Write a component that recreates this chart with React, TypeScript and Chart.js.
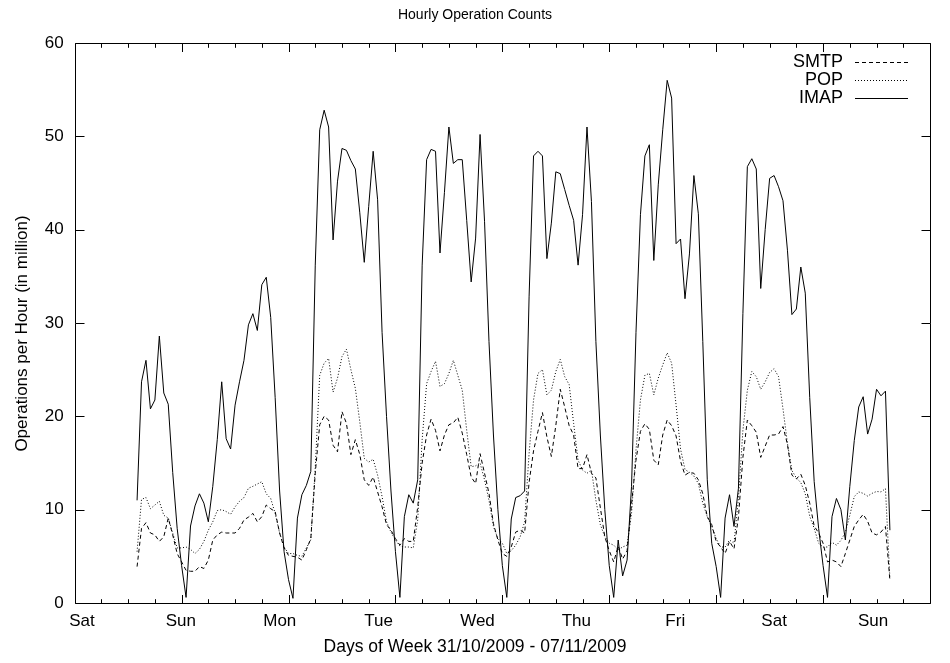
import { useEffect, useRef } from 'react';
import { Chart, registerables } from 'chart.js';

Chart.register(...registerables);

// hour index (hours since the first Saturday 00:00) of the first sample
const START_HOUR = 14;
const TOTAL_HOURS = 192;
const dayLabels = ['Sat', 'Sun', 'Mon', 'Tue', 'Wed', 'Thu', 'Fri', 'Sat', 'Sun'];
const seriesNames = ['SMTP', 'POP', 'IMAP'];
const yTitle = 'Operations per Hour (in million)';
const xTitle = 'Days of Week 31/10/2009 - 07/11/2009';
const chartTitle = 'Hourly Operation Counts';

const smtp = [
  3.9, 8.0, 8.6, 7.5, 7.3, 6.6, 7.1, 9.1, 7.3, 5.3, 4.4, 3.5,
  3.4, 3.4, 3.9, 3.7, 4.6, 6.75, 7.3, 7.6, 7.5, 7.5, 7.5, 8.0,
  8.9, 9.2, 9.6, 8.7, 9.25, 10.5, 10.1, 9.8, 7.5, 5.9, 5.1, 5.0,
  4.9, 4.6, 5.7, 6.9, 13.9, 19.1, 20.0, 19.6, 16.9, 16.2, 20.5, 19.25,
  15.9, 17.5, 15.9, 13.2, 12.6, 13.5, 11.9, 10.3, 8.4, 7.8, 6.9, 6.2,
  6.9, 6.6, 6.6, 10.3, 15.0, 18.0, 19.7, 18.5, 16.3, 18.0, 19.1, 19.3,
  19.9, 18.2, 15.9, 13.5, 12.8, 16.0, 13.9, 11.75, 8.5, 6.75, 5.3, 5.0,
  6.0, 7.6, 7.8, 7.5, 12.9, 16.3, 18.4, 20.4, 17.8, 15.7, 19.0, 22.9,
  21.0, 19.0, 18.0, 14.4, 14.4, 15.9, 13.9, 13.4, 10.2, 7.1, 5.6, 4.4,
  6.1, 4.7, 5.6, 10.6, 15.3, 18.4, 19.2, 18.6, 15.3, 14.8, 18.0, 19.6,
  19.0, 17.9, 15.2, 13.7, 14.0, 13.9, 13.2, 11.7, 9.25, 8.4, 6.6, 6.0,
  5.3, 6.6, 5.8, 9.2, 15.6, 19.6, 19.0, 18.3, 15.6, 16.8, 18.0, 18.0,
  18.1, 18.9, 17.0, 13.7, 13.3, 13.8, 12.6, 10.7, 8.25, 7.5, 6.4, 4.4,
  4.6, 4.4, 3.9, 5.3, 6.75, 8.2, 8.9, 9.5, 8.75, 7.5, 7.3, 7.6,
  8.2, 2.4,
];

const pop = [
  5.5, 11.1, 11.3, 10.1, 10.5, 10.9, 9.4, 9.1, 7.5, 5.9, 5.9, 6.0,
  5.75, 5.3, 5.75, 6.6, 7.8, 8.7, 9.9, 10.0, 9.8, 9.5, 10.3, 10.9,
  11.3, 12.3, 12.5, 12.75, 13.0, 11.7, 11.2, 9.6, 7.5, 6.0, 5.3, 5.3,
  5.1, 5.0, 5.9, 6.75, 14.5, 24.4, 25.7, 26.2, 22.6, 24.1, 26.4, 27.2,
  25.0, 23.0, 19.4, 15.5, 15.1, 15.4, 13.7, 11.4, 8.7, 7.6, 6.75, 6.1,
  6.0, 6.0, 5.9, 8.9, 17.5, 23.5, 24.8, 25.9, 23.2, 23.5, 24.6, 26.0,
  24.4, 22.8, 18.5, 14.6, 14.7, 15.0, 13.2, 11.0, 8.2, 6.9, 6.4, 5.3,
  5.6, 6.2, 7.1, 8.7, 16.0, 21.75, 24.6, 25.0, 22.3, 22.8, 24.8, 26.1,
  24.25, 23.4, 19.25, 15.3, 14.25, 13.9, 14.25, 11.0, 8.4, 7.1, 6.4, 6.2,
  5.7, 6.0, 6.2, 9.6, 16.4, 21.75, 24.4, 24.6, 22.3, 24.1, 25.5, 26.8,
  25.7, 21.2, 16.5, 14.3, 14.0, 13.6, 12.8, 10.7, 9.25, 8.2, 6.9, 6.0,
  6.0, 6.75, 6.4, 11.2, 18.5, 22.8, 24.8, 24.25, 22.9, 23.7, 24.7, 25.1,
  24.25, 20.8, 17.1, 14.2, 13.4, 12.9, 11.7, 9.3, 8.0, 6.4, 6.0, 6.0,
  6.5, 6.2, 6.7, 7.6, 9.4, 11.4, 11.9, 11.75, 11.45, 11.75, 11.95, 11.9,
  12.25, 2.6,
];

const imap = [
  11.0, 23.7, 26.0, 20.8, 21.75, 28.6, 22.5, 21.3, 14, 8, 4, 0.6,
  8.25, 10.4, 11.7, 10.7, 8.7, 12.5, 17.5, 23.7, 17.6, 16.5, 21.2, 23.7,
  26.0, 29.8, 31.0, 29.2, 34.1, 34.9, 30.6, 22, 12, 5.5, 2.5, 0.5,
  9.1, 11.6, 12.6, 14.1, 36.2, 50.7, 52.8, 51.0, 38.9, 45.2, 48.7, 48.5,
  47.4, 46.5, 41.8, 36.5, 42.5, 48.4, 43.2, 29, 20, 12, 5.5, 0.6,
  9.25, 11.6, 10.7, 13.2, 36.2, 47.5, 48.6, 48.4, 37.5, 44.0, 51.0, 47.1,
  47.5, 47.5, 41.0, 34.4, 39.1, 50.2, 40.9, 28, 18, 10, 4, 0.6,
  9.0, 11.3, 11.5, 12.0, 32.8, 47.9, 48.4, 47.9, 36.9, 40.7, 46.2, 46.0,
  44.3, 42.6, 41.0, 36.2, 41.6, 51.0, 43.0, 28, 18, 10, 4, 0.6,
  6.75, 2.9, 4.6, 12.5, 29, 41.6, 47.9, 49.1, 36.7, 44.8, 50.7, 56.0,
  54.1, 38.5, 39.0, 32.6, 37.4, 45.8, 41.7, 28, 13.2, 6.4, 3.9, 0.6,
  9.1, 11.6, 8.2, 12.3, 31, 46.75, 47.6, 46.5, 33.7, 40, 45.5, 45.8,
  44.6, 43.1, 37.8, 30.9, 31.5, 36.0, 33.2, 22, 13, 8, 4, 0.6,
  9.25, 11.2, 10.0, 6.75, 12.5, 17.4, 21.0, 22.1, 18.1, 19.7, 22.9, 22.2,
  22.7, 7.8,
];

const FONT = 'Liberation Sans, Arial, Helvetica, sans-serif';

const toPoints = (vals: number[]) => vals.map((v, i) => ({ x: START_HOUR + i, y: v }));

// frame with inward ticks (gnuplot style), mirrored on all sides
const framePlugin = {
  id: 'gnuFrame',
  afterDatasetsDraw(chart: any) {
    const { ctx, chartArea: a, scales } = chart;
    const xs = scales.x;
    const ys = scales.y;
    const L = Math.round(a.left) + 0.5;
    const R = Math.round(a.right) + 0.5;
    const T = Math.round(a.top) + 0.5;
    const B = Math.round(a.bottom) + 0.5;
    ctx.save();
    ctx.strokeStyle = '#000';
    ctx.lineWidth = 1;
    ctx.beginPath();
    ctx.rect(L, T, R - L, B - T);
    for (let v = 0; v <= 60; v += 10) {
      const y = Math.round(ys.getPixelForValue(v)) + 0.5;
      ctx.moveTo(L, y); ctx.lineTo(L + 9, y);
      ctx.moveTo(R, y); ctx.lineTo(R - 9, y);
    }
    for (let h = 0; h <= TOTAL_HOURS; h += 6) {
      const x = Math.round(xs.getPixelForValue(h)) + 0.5;
      const len = h % 24 === 0 ? 8.5 : 4.3;
      ctx.moveTo(x, B); ctx.lineTo(x, B - len);
      ctx.moveTo(x, T); ctx.lineTo(x, T + len);
    }
    ctx.stroke();
    ctx.restore();
  },
};

// rotated y-axis title, centred on the canvas height like gnuplot does
const yTitlePlugin = {
  id: 'gnuYTitle',
  afterDraw(chart: any) {
    const { ctx } = chart;
    ctx.save();
    ctx.translate(22, chart.height / 2 + 2);
    ctx.rotate(-Math.PI / 2);
    ctx.font = `17px ${FONT}`;
    ctx.fillStyle = '#000';
    ctx.textAlign = 'center';
    ctx.textBaseline = 'middle';
    ctx.fillText(yTitle, 0, 0);
    ctx.restore();
  },
};

// legend inside the top-right corner: text right-aligned, sample line to its right
const legendPlugin = {
  id: 'gnuLegend',
  afterDatasetsDraw(chart: any) {
    const { ctx, chartArea: a } = chart;
    ctx.save();
    ctx.font = `18px ${FONT}`;
    ctx.textAlign = 'right';
    ctx.textBaseline = 'middle';
    chart.data.datasets.forEach((ds: any, i: number) => {
      const y = a.top + 18.7 + i * 18.3;
      ctx.fillStyle = '#000';
      ctx.fillText(ds.label, a.right - 87, y);
      ctx.strokeStyle = ds.borderColor;
      ctx.lineWidth = ds.borderWidth;
      ctx.setLineDash(ds.borderDash || []);
      ctx.beginPath();
      ctx.moveTo(a.right - 75, Math.round(y) + 0.5);
      ctx.lineTo(a.right - 22, Math.round(y) + 0.5);
      ctx.stroke();
      ctx.setLineDash([]);
    });
    ctx.restore();
  },
};

export default function App() {
  const ref = useRef<HTMLCanvasElement | null>(null);

  useEffect(() => {
    if (!ref.current) return;
    const labelUnit = 98.875; // pixel spacing of day labels
    const chart = new Chart(ref.current, {
      type: 'line',
      data: {
        datasets: [
          { label: seriesNames[0], data: toPoints(smtp), borderColor: '#000', borderWidth: 1, borderDash: [4, 3], pointRadius: 0, fill: false, tension: 0, xAxisID: 'x', yAxisID: 'y' },
          { label: seriesNames[1], data: toPoints(pop), borderColor: '#000', borderWidth: 1, borderDash: [1, 2], pointRadius: 0, fill: false, tension: 0, xAxisID: 'x', yAxisID: 'y' },
          { label: seriesNames[2], data: toPoints(imap), borderColor: '#000', borderWidth: 1, pointRadius: 0, fill: false, tension: 0, xAxisID: 'x', yAxisID: 'y' },
        ],
      },
      options: {
        responsive: false,
        animation: false,
        events: [],
        layout: { padding: 0 },
        scales: {
          x: { type: 'linear', min: 0, max: TOTAL_HOURS, display: false },
          x2: {
            type: 'linear',
            position: 'bottom',
            min: -7.3 / labelUnit,
            max: -7.3 / labelUnit + 855.3 / labelUnit,
            grid: { display: false, drawTicks: false },
            border: { display: false },
            ticks: {
              stepSize: 1,
              includeBounds: false,
              autoSkip: false,
              maxRotation: 0,
              padding: 7.8,
              color: '#000',
              font: { family: FONT, size: 17 },
              callback: (v: any) => dayLabels[Math.round(Number(v))] ?? '',
            },
            afterFit: (s: any) => { s.height = 30; },
          },
          y: {
            type: 'linear',
            min: 0,
            max: 60,
            grid: { display: false, drawTicks: false },
            border: { display: false },
            ticks: { stepSize: 10, padding: 11, color: '#000', font: { family: FONT, size: 17 } },
            afterFit: (s: any) => { s.width = 74.7; },
          },
          yRight: {
            type: 'linear',
            position: 'right',
            min: 0,
            max: 60,
            grid: { display: false, drawTicks: false },
            border: { display: false },
            ticks: { display: false },
            afterFit: (s: any) => { s.width = 20; },
          },
        },
        plugins: {
          legend: { display: false },
          tooltip: { enabled: false },
          title: {
            display: true,
            text: chartTitle,
            color: '#000',
            font: { family: FONT, size: 14, weight: 'normal' },
            padding: { top: 7, bottom: 19.2 },
          },
          subtitle: {
            display: true,
            position: 'bottom',
            text: xTitle,
            color: '#000',
            font: { family: FONT, size: 17.5, weight: 'normal' },
            padding: { top: 3.2, bottom: 5.8 },
          },
        },
      },
      plugins: [framePlugin, legendPlugin, yTitlePlugin],
    } as any);
    return () => chart.destroy();
  }, []);

  return (
    <div style={{ position: 'absolute', left: 0, top: 0, width: 950, height: 663, background: '#fff' }}>
      <canvas ref={ref} width={950} height={663} style={{ display: 'block' }} />
    </div>
  );
}
